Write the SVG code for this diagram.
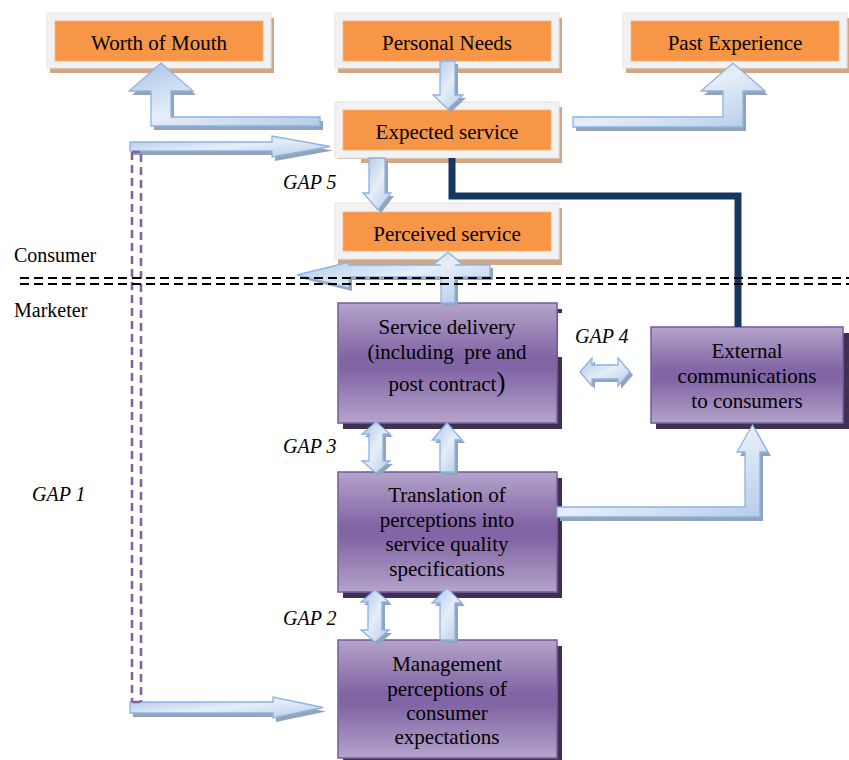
<svg xmlns="http://www.w3.org/2000/svg" xmlns:xlink="http://www.w3.org/1999/xlink" width="849" height="760" viewBox="0 0 849 760" font-family="'Liberation Serif', 'Times New Roman', 'DejaVu Serif', serif">
<style>
  text { fill: #000; }
  .t { font-size: 21px; text-anchor: middle; }
  .gap { font-size: 20px; font-style: italic; }
  .side { font-size: 20px; }
  .frame { fill: #f2f2f2; stroke: #e4e4e4; stroke-width: 1; }
  .tan { fill: #d3a784; }
  .org { fill: #f79646; stroke: #fbb27a; stroke-width: 0.8; }
  .pbox { fill: url(#pg); stroke: #7d5fa5; stroke-width: 1.6; }
  .pshadow { fill: #3f3151; }
  .ash { fill: #93a3b8; }
  .arr { fill: url(#ag); stroke: #8db3e2; stroke-width: 1.3; stroke-linejoin: miter; }
  .lbg { fill: #ffffff; }
  .navy { fill: none; stroke: #17375e; stroke-width: 7; stroke-linejoin: miter; }
  .bdash { fill: none; stroke: #000; stroke-width: 2; stroke-dasharray: 9 5; }
  .vdash { fill: none; stroke: #8064a2; stroke-width: 2.6; stroke-dasharray: 8 5; }
</style>
<defs>
  <linearGradient id="pg" x1="0" y1="0" x2="0" y2="1">
    <stop offset="0" stop-color="#b4a4ca"/>
    <stop offset="0.45" stop-color="#8165a5"/>
    <stop offset="0.55" stop-color="#8165a5"/>
    <stop offset="1" stop-color="#b4a4ca"/>
  </linearGradient>
  <linearGradient id="ag" x1="0" y1="0" x2="1" y2="1">
    <stop offset="0" stop-color="#a9c3e6"/>
    <stop offset="0.5" stop-color="#e6eef8"/>
    <stop offset="1" stop-color="#b3cbe9"/>
  </linearGradient>
  <path id="a1" d="M320,117 H171 V91 H193 L161,63 L129,91 H151 V126 H320 Z"/>
  <path id="a2" d="M573,117 H723 V91 H701 L733,63 L765,91 H743 V127 H573 Z"/>
  <path id="a3" d="M130,142 H272 V136 L330,146.5 L272,157 V151 H130 Z"/>
  <path id="a4" d="M440,61 H455 V95 H463 L448,109 L433,95 H440 Z"/>
  <path id="a5" d="M369,158 H385 V193 H391 L378,210 L363,193 H369 Z"/>
  <path id="a6" d="M441,303 V277 H349 V288 L297,275 L349,262 V265 H441 V265 H433 L448,252 L463,265 H455 V265 H490 V277 H455 V303 Z"/>
  <path id="a7" d="M580,372 L592,358 V365 H618 V358 L630,372 L618,386 V379 H592 V386 Z"/>
  <path id="a8" d="M376,422 L390,434 H383 V461 H390 L376,473 L362,461 H369 V434 H362 Z"/>
  <path id="a9" d="M447,423 L462,440 H455 V472 H440 V440 H432 Z"/>
  <path id="a10" d="M375,590 L389,602 H382 V630 H389 L375,642 L361,630 H368 V602 H361 Z"/>
  <path id="a11" d="M447,588 L462,603 H455 V640 H440 V603 H432 Z"/>
  <path id="a12" d="M557,507 H745 V452 H737 L752.5,425 L768,452 H760 V517 H557 Z"/>
  <path id="a13" d="M130,702 H273 V697 L323,707.5 L273,718 V713 H130 Z"/>
</defs>

<!-- Orange consumer-side nodes -->
<g id="worth-of-mouth">
  <rect class="tan" x="50" y="18" width="224" height="55"/>
  <rect class="frame" x="47" y="13" width="224" height="55"/>
  <rect class="org" x="55" y="21" width="208" height="40"/>
  <text class="t" x="159" y="50">Worth of Mouth</text>
</g>
<g id="personal-needs">
  <rect class="tan" x="338" y="18" width="224" height="55"/>
  <rect class="frame" x="335" y="13" width="224" height="55"/>
  <rect class="org" x="343" y="21" width="208" height="40"/>
  <text class="t" x="447" y="50">Personal Needs</text>
</g>
<g id="past-experience">
  <rect class="tan" x="626" y="18" width="224" height="55"/>
  <rect class="frame" x="623" y="13" width="224" height="55"/>
  <rect class="org" x="631" y="21" width="208" height="40"/>
  <text class="t" x="735" y="50">Past Experience</text>
</g>
<g id="expected-service">
  <rect class="tan" x="338" y="107" width="224" height="56"/>
  <rect class="frame" x="335" y="102" width="224" height="56"/>
  <rect class="org" x="343" y="110" width="208" height="40"/>
  <text class="t" x="447" y="139">Expected service</text>
</g>
<g id="perceived-service">
  <rect class="tan" x="338" y="208" width="224" height="57"/>
  <rect class="frame" x="335" y="203" width="224" height="56"/>
  <rect class="org" x="343" y="212" width="208" height="39"/>
  <text class="t" x="447" y="241">Perceived service</text>
</g>

<!-- Purple marketer-side nodes -->
<g id="service-delivery">
  <rect class="pshadow" x="343" y="309" width="219" height="120"/>
  <rect class="pbox" x="338" y="303" width="219" height="120"/>
  <text class="t" x="447" y="334">Service delivery</text>
  <text class="t" x="447" y="359" style="white-space:pre">(including  pre and</text>
  <text class="t" x="447" y="391">post contract<tspan font-size="27">)</tspan></text>
</g>
<g id="external-communications">
  <rect class="pshadow" x="656" y="333" width="193" height="96"/>
  <rect class="pbox" x="651" y="327" width="192" height="96"/>
  <text class="t" x="747" y="358">External</text>
  <text class="t" x="747" y="383">communications</text>
  <text class="t" x="747" y="408">to consumers</text>
</g>
<g id="translation">
  <rect class="pshadow" x="343" y="478" width="219" height="120"/>
  <rect class="pbox" x="338" y="472" width="219" height="120"/>
  <text class="t" x="447" y="502">Translation of</text>
  <text class="t" x="447" y="527">perceptions into</text>
  <text class="t" x="447" y="551">service quality</text>
  <text class="t" x="447" y="576">specifications</text>
</g>
<g id="management-perceptions">
  <rect class="pshadow" x="343" y="646" width="219" height="120"/>
  <rect class="pbox" x="338" y="640" width="219" height="118"/>
  <text class="t" x="447" y="671">Management</text>
  <text class="t" x="447" y="696">perceptions of</text>
  <text class="t" x="447" y="720">consumer</text>
  <text class="t" x="447" y="744">expectations</text>
</g>

<!-- Labels -->
<g id="labels">
  <rect class="lbg" x="278" y="159" width="83" height="42"/>
  <rect class="lbg" x="558" y="313" width="84" height="44"/>
  <rect class="lbg" x="278" y="430" width="83" height="40"/>
  <rect class="lbg" x="278" y="599" width="82" height="40"/>
  <text class="gap" x="283" y="189">GAP 5</text>
  <text class="gap" x="575" y="343">GAP 4</text>
  <text class="gap" x="283" y="453">GAP 3</text>
  <text class="gap" x="283" y="625">GAP 2</text>
  <text class="gap" x="32" y="501">GAP 1</text>
  <text class="side" x="14" y="262">Consumer</text>
  <text class="side" x="14" y="317">Marketer</text>
</g>

<!-- Connectors -->
<g id="connectors">
  <path class="navy" d="M452,158 V196 H738 V327"/>
  <use xlink:href="#a1" class="ash" transform="translate(3,4)"/>
  <use xlink:href="#a1" class="arr"/>
  <use xlink:href="#a2" class="ash" transform="translate(3,4)"/>
  <use xlink:href="#a2" class="arr"/>
  <use xlink:href="#a3" class="ash" transform="translate(3,4)"/>
  <use xlink:href="#a3" class="arr"/>
  <use xlink:href="#a4" class="ash" transform="translate(3,3)"/>
  <use xlink:href="#a4" class="arr"/>
  <use xlink:href="#a5" class="ash" transform="translate(3,3)"/>
  <use xlink:href="#a5" class="arr"/>
  <use xlink:href="#a6" class="ash" transform="translate(3,3)"/>
  <use xlink:href="#a6" class="arr"/>
  <use xlink:href="#a7" class="ash" transform="translate(3,3)"/>
  <use xlink:href="#a7" class="arr"/>
  <use xlink:href="#a8" class="ash" transform="translate(3,3)"/>
  <use xlink:href="#a8" class="arr"/>
  <use xlink:href="#a9" class="ash" transform="translate(3,3)"/>
  <use xlink:href="#a9" class="arr"/>
  <use xlink:href="#a10" class="ash" transform="translate(3,3)"/>
  <use xlink:href="#a10" class="arr"/>
  <use xlink:href="#a11" class="ash" transform="translate(3,3)"/>
  <use xlink:href="#a11" class="arr"/>
  <use xlink:href="#a12" class="ash" transform="translate(3,4)"/>
  <use xlink:href="#a12" class="arr"/>
  <use xlink:href="#a13" class="ash" transform="translate(3,4)"/>
  <use xlink:href="#a13" class="arr"/>
  <path class="vdash" d="M132,152 H142 M132,152 V702 M141,154 V702 M132,702 H142"/>
</g>

<!-- Consumer / Marketer boundary -->
<g id="boundary">
  <path class="bdash" d="M20,278 H849 M20,284 H849"/>
</g>
</svg>
